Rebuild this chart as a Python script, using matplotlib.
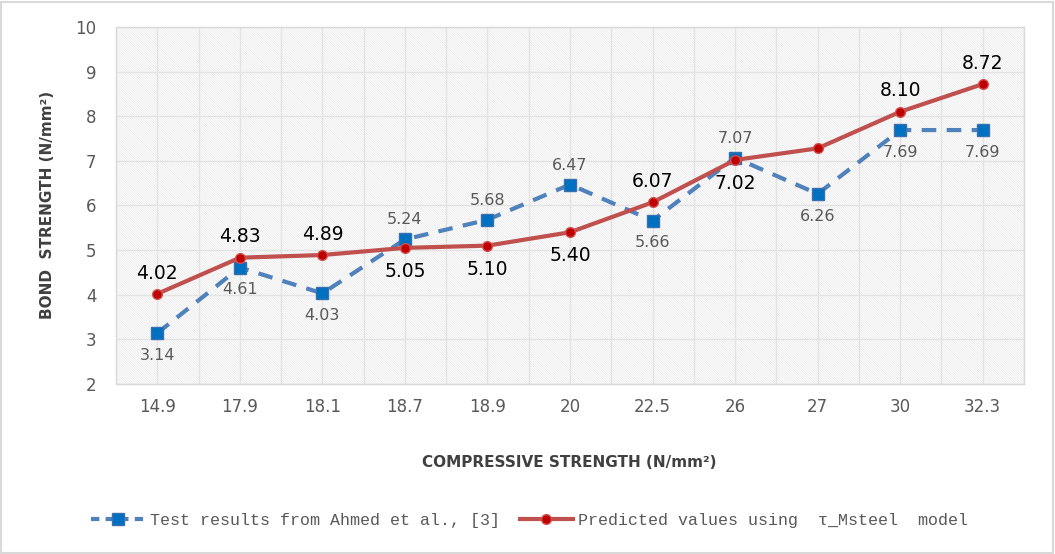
import matplotlib
matplotlib.use("Agg")
import matplotlib.pyplot as plt
from matplotlib.lines import Line2D
from matplotlib.patches import Rectangle

categories = ["14.9", "17.9", "18.1", "18.7", "18.9", "20", "22.5", "26", "27", "30", "32.3"]
test_vals = [3.14, 4.61, 4.03, 5.24, 5.68, 6.47, 5.66, 7.07, 6.26, 7.69, 7.69]
pred_vals = [4.02, 4.83, 4.89, 5.05, 5.10, 5.40, 6.07, 7.02, 7.28, 8.10, 8.72]
pred_labels = ["4.02", "4.83", "4.89", "5.05", "5.10", "5.40", "6.07", "7.02", "", "8.10", "8.72"]
test_label_pos = ["below", "below", "below", "above", "above", "above", "below", "above", "below", "below", "below"]
pred_label_pos = ["above", "above", "above", "below", "below", "below", "above", "below", "above", "above", "above"]
yticks = [2, 3, 4, 5, 6, 7, 8, 9, 10]

plt.rcParams['hatch.linewidth'] = 0.4
plt.rcParams['hatch.color'] = '#e2e2e2'

fig = plt.figure(figsize=(10.55, 5.54), dpi=100)
fig.patches.append(Rectangle((0.001, 0.002), 0.997, 0.995, transform=fig.transFigure,
                             fill=False, edgecolor='#d9d9d9', linewidth=1.5))
ax = fig.add_axes([0.110, 0.3069, 0.8606, 0.6444])
ax.patch.set_facecolor('white')
ax.patch.set_hatch('\\' * 14)
ax.patch.set_edgecolor('#e2e2e2')

x = list(range(len(categories)))
ax.set_xlim(-0.5, len(categories) - 0.5)
ax.set_ylim(2, 10)

# grid
for k in range(2 * len(categories) + 1):
    ax.axvline(-0.5 + 0.5 * k, color='#e3e3e3', lw=1, zorder=1)
for yv in yticks:
    ax.axhline(yv, color='#e3e3e3', lw=1, zorder=1)

ax.plot(x, test_vals, color='#4f81bd', lw=3, ls=(0, (3.5, 2.5)), marker='s', ms=9,
        markerfacecolor='#0070c0', markeredgecolor='#3a6fb0', zorder=3)
ax.plot(x, pred_vals, color='#c0504d', lw=3, marker='o', ms=7,
        markerfacecolor='#c00000', markeredgecolor='#d05050', zorder=4)

for xi, v, p in zip(x, test_vals, test_label_pos):
    dy = 14 if p == "above" else -16
    ax.annotate(f"{v:.2f}", (xi, v), xytext=(0, dy), textcoords='offset points',
                ha='center', va='center', fontsize=11.5, color='#595959', zorder=5)
for xi, v, lab, p in zip(x, pred_vals, pred_labels, pred_label_pos):
    if not lab:
        continue
    dy = 15 if p == "above" else -17
    ax.annotate(lab, (xi, v), xytext=(0, dy), textcoords='offset points',
                ha='center', va='center', fontsize=13.5, color='black', zorder=5)

ax.set_xticks(x)
ax.set_xticklabels(categories)
ax.set_yticks(yticks)
ax.tick_params(axis='both', length=0, labelsize=12, colors='#595959', pad=10)
ax.tick_params(axis='y', pad=14)
for s in ['top', 'right', 'bottom', 'left']:
    ax.spines[s].set_color('#d9d9d9')
    ax.spines[s].set_linewidth(1)

fig.text(0.540, 0.165, "COMPRESSIVE STRENGTH (N/mm²)", ha='center', va='center',
         fontsize=11, fontweight='bold', color='#404040')
fig.text(0.045, 0.63, "BOND  STRENGTH (N/mm²)", ha='center', va='center', rotation=90,
         fontsize=11, fontweight='bold', color='#404040')

handles = [
    Line2D([0], [0], color='#4f81bd', lw=3, ls=(0, (2, 1.5)), marker='s', ms=9,
           markerfacecolor='#0070c0', markeredgecolor='#3a6fb0'),
    Line2D([0], [0], color='#c0504d', lw=3, marker='o', ms=7,
           markerfacecolor='#c00000', markeredgecolor='#d05050'),
]
labels = ["Test results from Ahmed et al., [3]", "Predicted values using  τ_Msteel  model"]
fig.legend(handles, labels, loc='center', bbox_to_anchor=(0.502, 0.06), ncol=2, frameon=False,
           prop={'family': 'Liberation Mono', 'size': 12}, labelcolor='#595959',
           handlelength=3.2, columnspacing=1.2, handletextpad=0.3)

fig.savefig("out.png", dpi=100)
